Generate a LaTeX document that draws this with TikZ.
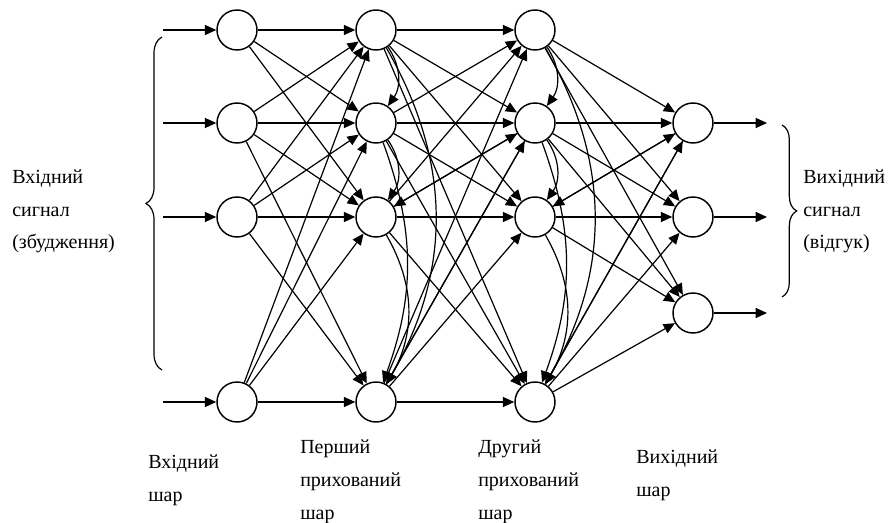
\documentclass[tikz,border=0pt]{standalone}
\usepackage{fontspec}
\setmainfont{Liberation Serif}
\usetikzlibrary{arrows.meta,decorations.pathreplacing}
\begin{document}
\begin{tikzpicture}[x=0.75pt,y=-0.75pt,
        neuron/.style={circle,draw,line width=1.1pt,minimum size=30pt,inner sep=0pt},
        link/.style={-{Triangle[length=8.5pt,width=7.5pt]},line width=0.9pt},
        lbl/.style={align=left,font=\fontsize{15}{24.5}\selectfont,inner sep=0pt,anchor=base west}]
    \useasboundingbox (0,0) rectangle (888,523);
    \foreach \n/\y in {1/30,2/123,3/217,4/402}{
        \node[neuron] (i\n) at (237,\y) {};
        \node[neuron] (a\n) at (376,\y) {};
        \node[neuron] (b\n) at (535,\y) {};
        \coordinate (in\n) at (163,\y);
        \draw[link] (in\n) -- (i\n);
    }
    \foreach \n/\y in {1/123,2/217,3/313}{
        \node[neuron] (o\n) at (693,\y) {};
        \coordinate (out\n) at (767,\y);
        \draw[link] (o\n) -- (out\n);
    }
    \foreach \s in {1,...,4}{
        \foreach \t in {1,...,4}{
            \ifnum\s\t=14 \else \draw[link] (i\s) -- (a\t); \fi
            \draw[link] (a\s) -- (b\t);
        }
        \foreach \t in {1,2,3}
            \draw[link] (b\s) -- (o\t);
    }
    \foreach \h in {a,b}{
        \draw[link] (\h1) to[bend left=35] (\h2);
        \draw[link] (\h2) to[bend left=35] (\h3);
        \draw[link] (\h3) to[bend left=30] (\h4);
        \draw[link] (\h1) to[bend left=30] (\h4);
        \draw[link] (\h2) to[bend left=20] (\h4);
    }
    \draw[link] (b2) -- (a3);
    \draw[link] (b2) -- (a4);
    \draw[link] (o1) -- (b3);
    \draw[link] (o1) -- (b4);
    \draw[line width=0.9pt,decorate,decoration={brace,amplitude=12pt}] (162,370) -- (162,37);
    \draw[line width=0.9pt,decorate,decoration={brace,amplitude=11pt}] (782,125) -- (782,297);
    \node[lbl] (insig) at (12,249) {Вхідний\\сигнал\\(збудження)};
    \node[lbl] (outsig) at (803,249) {Вихідний\\сигнал\\(відгук)};
    \node[lbl] (inlay) at (148,501) {Вхідний\\шар};
    \node[lbl] (h1lay) at (300,519) {Перший\\прихований\\шар};
    \node[lbl] (h2lay) at (478,519) {Другий\\прихований\\шар};
    \node[lbl] (outlay) at (636,496) {Вихідний\\шар};
\end{tikzpicture}
\end{document}
